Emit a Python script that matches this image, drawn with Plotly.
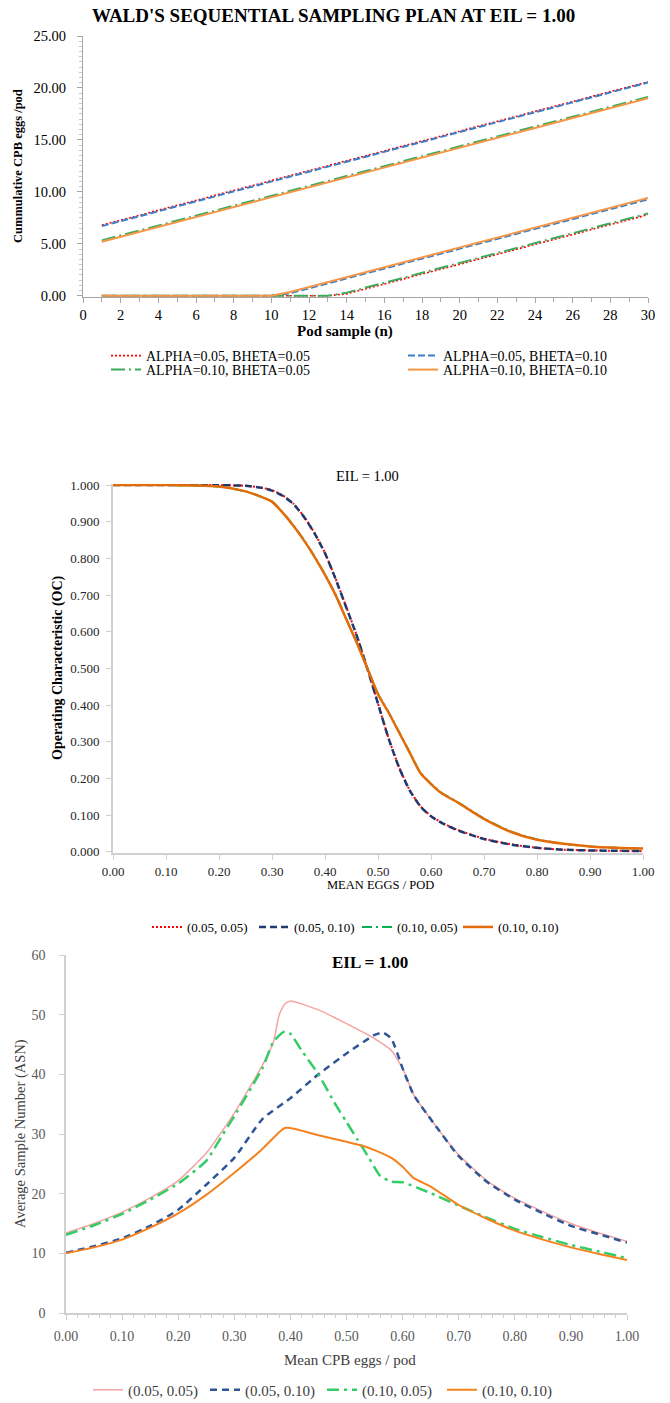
import plotly.graph_objects as go

# ---------------- Panel 1 data: Wald's sequential sampling lines ----------------
POD_N = [1, 2, 3, 4, 5, 6, 7, 8, 9, 10, 11, 12, 13, 14, 15,
         16, 17, 18, 19, 20, 21, 22, 23, 24, 25, 26, 27, 28, 29, 30]
UPPER_0505 = [6.80, 7.28, 7.75, 8.23, 8.70, 9.18, 9.66, 10.13, 10.61, 11.08, 11.56, 12.04, 12.51, 12.99, 13.46,
              13.94, 14.42, 14.89, 15.37, 15.84, 16.32, 16.80, 17.27, 17.75, 18.22, 18.70, 19.18, 19.65, 20.13, 20.60]
UPPER_0510 = [6.70, 7.18, 7.65, 8.13, 8.61, 9.08, 9.56, 10.04, 10.51, 10.99, 11.47, 11.94, 12.42, 12.90, 13.37,
              13.85, 14.32, 14.80, 15.28, 15.75, 16.23, 16.71, 17.18, 17.66, 18.14, 18.61, 19.09, 19.57, 20.04, 20.52]
UPPER_1005 = [5.33, 5.81, 6.28, 6.76, 7.23, 7.71, 8.19, 8.66, 9.14, 9.61, 10.09, 10.57, 11.04, 11.52, 11.99,
              12.47, 12.95, 13.42, 13.90, 14.38, 14.85, 15.33, 15.80, 16.28, 16.76, 17.23, 17.71, 18.18, 18.66, 19.14]
UPPER_1010 = [5.20, 5.68, 6.15, 6.63, 7.10, 7.58, 8.06, 8.53, 9.01, 9.48, 9.96, 10.44, 10.91, 11.39, 11.86,
              12.34, 12.82, 13.29, 13.77, 14.24, 14.72, 15.20, 15.67, 16.15, 16.62, 17.10, 17.58, 18.05, 18.53, 19.00]
LOWER_0505 = [0, 0, 0, 0, 0, 0, 0, 0, 0, 0, 0, 0, 0, 0.18, 0.66,
              1.13, 1.61, 2.08, 2.56, 3.04, 3.51, 3.99, 4.46, 4.94, 5.42, 5.89, 6.37, 6.84, 7.32, 7.80]
LOWER_0510 = [0, 0, 0, 0, 0, 0, 0, 0, 0, 0, 0.24, 0.72, 1.19, 1.67, 2.14,
              2.62, 3.10, 3.57, 4.05, 4.52, 5.00, 5.48, 5.95, 6.43, 6.90, 7.38, 7.86, 8.33, 8.81, 9.28]
LOWER_1005 = [0, 0, 0, 0, 0, 0, 0, 0, 0, 0, 0, 0, 0, 0.30, 0.78,
              1.25, 1.73, 2.20, 2.68, 3.16, 3.63, 4.11, 4.58, 5.06, 5.54, 6.01, 6.49, 6.96, 7.44, 7.92]
LOWER_1010 = [0, 0, 0, 0, 0, 0, 0, 0, 0, 0, 0.36, 0.84, 1.31, 1.79, 2.26,
              2.74, 3.22, 3.69, 4.17, 4.64, 5.12, 5.60, 6.07, 6.55, 7.02, 7.50, 7.98, 8.45, 8.93, 9.40]
WALD_LABELS = ["ALPHA=0.05, BHETA=0.05", "ALPHA=0.05, BHETA=0.10",
               "ALPHA=0.10, BHETA=0.05", "ALPHA=0.10, BHETA=0.10"]

# ---------------- Panel 2 data: Operating characteristic ----------------
OC_X = [0.00, 0.05, 0.10, 0.15, 0.20, 0.25, 0.28, 0.30, 0.32, 0.34, 0.36, 0.38, 0.40, 0.42, 0.44, 0.46,
        0.48, 0.50, 0.52, 0.54, 0.56, 0.58, 0.60, 0.62, 0.65, 0.70, 0.75, 0.80, 0.85, 0.90, 0.95, 1.00]
OC_0505 = [1.000, 1.000, 1.000, 1.000, 1.000, 0.998, 0.993, 0.986, 0.972, 0.950, 0.915, 0.870, 0.815, 0.745, 0.668, 0.590,
           0.500, 0.405, 0.310, 0.230, 0.168, 0.125, 0.098, 0.080, 0.060, 0.036, 0.021, 0.011, 0.006, 0.004, 0.003, 0.002]
OC_0510 = [1.000, 1.000, 1.000, 1.000, 1.000, 0.998, 0.993, 0.985, 0.971, 0.949, 0.914, 0.869, 0.814, 0.744, 0.667, 0.589,
           0.499, 0.404, 0.309, 0.229, 0.167, 0.124, 0.097, 0.079, 0.059, 0.035, 0.020, 0.011, 0.006, 0.004, 0.003, 0.002]
OC_1005 = [1.000, 1.000, 1.000, 0.999, 0.996, 0.983, 0.968, 0.955, 0.926, 0.891, 0.851, 0.806, 0.756, 0.701, 0.636, 0.571,
           0.501, 0.431, 0.381, 0.326, 0.271, 0.216, 0.186, 0.161, 0.136, 0.091, 0.056, 0.034, 0.022, 0.015, 0.011, 0.009]
OC_1010 = [1.000, 1.000, 1.000, 0.999, 0.996, 0.983, 0.968, 0.955, 0.925, 0.890, 0.850, 0.805, 0.755, 0.700, 0.635, 0.570,
           0.500, 0.430, 0.380, 0.325, 0.270, 0.215, 0.185, 0.160, 0.135, 0.090, 0.055, 0.033, 0.022, 0.015, 0.011, 0.009]
PAIR_LABELS = ["(0.05, 0.05)", "(0.05, 0.10)", "(0.10, 0.05)", "(0.10, 0.10)"]

# ---------------- Panel 3 data: Average sample number ----------------
ASN_X_0505 = [0.00, 0.05, 0.10, 0.15, 0.20, 0.25, 0.30, 0.35, 0.37, 0.38, 0.39, 0.40, 0.45, 0.50, 0.55,
              0.58, 0.60, 0.62, 0.65, 0.70, 0.75, 0.80, 0.85, 0.90, 0.95, 1.00]
ASN_0505 = [13.4, 15.0, 16.9, 19.3, 22.2, 26.8, 33.5, 41.5, 45.5, 50.0, 51.8, 52.3, 50.8, 48.5, 46.0,
            44.0, 41.0, 36.5, 32.5, 26.5, 22.2, 19.2, 17.0, 15.0, 13.4, 12.0]
ASN_X_0510 = [0.00, 0.05, 0.10, 0.15, 0.20, 0.25, 0.30, 0.35, 0.40, 0.45, 0.50, 0.55, 0.565, 0.58,
              0.60, 0.62, 0.65, 0.70, 0.75, 0.80, 0.85, 0.90, 0.95, 1.00]
ASN_0510 = [10.1, 11.2, 12.5, 14.6, 17.3, 21.5, 26.0, 32.5, 36.0, 40.0, 43.5, 46.6, 47.0, 46.0,
            41.0, 36.5, 32.5, 26.3, 22.0, 19.0, 16.7, 14.6, 13.2, 11.8]
ASN_X_1005 = [0.00, 0.05, 0.10, 0.15, 0.20, 0.25, 0.28, 0.30, 0.35, 0.37, 0.39, 0.40, 0.42, 0.45, 0.48,
              0.50, 0.52, 0.54, 0.56, 0.58, 0.60, 0.65, 0.70, 0.75, 0.80, 0.85, 0.90, 0.95, 1.00]
ASN_1005 = [13.1, 14.7, 16.6, 19.0, 21.7, 25.5, 30.0, 33.0, 41.0, 45.5, 47.2, 46.8, 44.0, 40.0, 35.0,
            32.0, 29.0, 26.0, 23.0, 22.0, 21.9, 20.1, 18.0, 16.0, 14.1, 12.7, 11.4, 10.3, 9.2]
ASN_X_1010 = [0.00, 0.05, 0.10, 0.15, 0.20, 0.25, 0.30, 0.35, 0.38, 0.39, 0.40, 0.45, 0.50, 0.53, 0.55,
              0.58, 0.60, 0.62, 0.65, 0.70, 0.75, 0.80, 0.85, 0.90, 0.95, 1.00]
ASN_1010 = [10.0, 11.0, 12.3, 14.3, 16.7, 19.8, 23.5, 27.5, 30.3, 31.0, 31.0, 29.8, 28.7, 28.0, 27.3,
            26.0, 24.5, 22.6, 21.2, 18.1, 15.8, 13.8, 12.3, 11.0, 9.9, 8.9]

W, H = 670, 1403
SERIF = "Liberation Serif"


def px(x):
    return x / W


def py(y):
    return (H - y) / H


fig = go.Figure()

# ----- Panel 1 traces (one legend per entry so the 2x2 grid is exact) -----
p1_styles = [
    dict(color="#ff0000", width=1.6, dash="2px,2px"),
    dict(color="#3a7fc8", width=2, dash="7px,3px"),
    dict(color="#3daa5c", width=2, dash="14px,4px,2px,4px"),
    dict(color="#f79646", width=2),
]
uppers = [UPPER_0505, UPPER_0510, UPPER_1005, UPPER_1010]
lowers = [LOWER_0505, LOWER_0510, LOWER_1005, LOWER_1010]
legs1 = ["legend", "legend2", "legend3", "legend4"]
for i in range(4):
    fig.add_trace(go.Scatter(x=POD_N, y=uppers[i], mode="lines", name=WALD_LABELS[i],
                             line=p1_styles[i], legendgroup="w%d" % i, legend=legs1[i],
                             xaxis="x", yaxis="y"))
    fig.add_trace(go.Scatter(x=POD_N, y=lowers[i], mode="lines", name=WALD_LABELS[i],
                             line=p1_styles[i], legendgroup="w%d" % i, legend=legs1[i],
                             showlegend=False, xaxis="x", yaxis="y"))

# ----- Panel 2 traces -----
p2_styles = [
    dict(color="#ff0000", width=2, dash="2px,2px"),
    dict(color="#1f3a6e", width=2.5, dash="7px,4px"),
    dict(color="#00b050", width=2, dash="10px,4px,2px,4px"),
    dict(color="#e36c09", width=2.5),
]
ocs = [OC_0505, OC_0510, OC_1005, OC_1010]
legs2 = ["legend5", "legend6", "legend7", "legend8"]
for i in range(4):
    fig.add_trace(go.Scatter(x=OC_X, y=ocs[i], mode="lines", name=PAIR_LABELS[i],
                             line=dict(shape="spline", smoothing=0.6, **p2_styles[i]),
                             legend=legs2[i], xaxis="x2", yaxis="y2"))

# ----- Panel 3 traces -----
p3_styles = [
    dict(color="#f4a3a3", width=1.5),
    dict(color="#2f5597", width=2.5, dash="7px,5px"),
    dict(color="#33cc66", width=2.5, dash="12px,5px,3px,5px"),
    dict(color="#f5821f", width=2),
]
asn_x = [ASN_X_0505, ASN_X_0510, ASN_X_1005, ASN_X_1010]
asn_y = [ASN_0505, ASN_0510, ASN_1005, ASN_1010]
legs3 = ["legend9", "legend10", "legend11", "legend12"]
for i in range(4):
    fig.add_trace(go.Scatter(x=asn_x[i], y=asn_y[i], mode="lines", name=PAIR_LABELS[i],
                             line=dict(shape="spline", smoothing=0.5, **p3_styles[i]),
                             legend=legs3[i], xaxis="x3", yaxis="y3"))

# ----- Axes -----
g1 = "#a6a6a6"
lg = "#d0d0d0"
common = dict(showgrid=False, zeroline=False, automargin=False, ticks="outside")
fig.update_layout(
    xaxis=dict(domain=[px(83), px(648)], anchor="y", range=[0, 30], tick0=0, dtick=2,
               ticklen=5, tickcolor=g1, showline=True, linecolor=g1, linewidth=1,
               minor=dict(dtick=1, ticks="outside", ticklen=4, tickcolor=g1),
               tickfont=dict(family=SERIF, size=14.5, color="#000000"), **common),
    yaxis=dict(domain=[py(297), py(36)], anchor="x", range=[-0.12, 25], tick0=0, dtick=5,
               tickformat=".2f", ticklen=5, tickcolor=g1, showline=True,
               linecolor=g1, linewidth=1, ticklabelstandoff=8,
               minor=dict(dtick=0.5, ticks="outside", ticklen=3, tickcolor="#c8c8c8"),
               tickfont=dict(family=SERIF, size=14.5, color="#000000"), **common),
    xaxis2=dict(domain=[px(113), px(643)], anchor="y2", range=[0, 1], tick0=0, dtick=0.1,
                tickformat=".2f", ticklen=5, tickcolor=lg, showline=True,
                linecolor=lg, linewidth=2,
                tickfont=dict(family=SERIF, size=13, color="#262626"), **common),
    yaxis2=dict(domain=[py(853), py(484)], anchor="x2", range=[-0.003, 1.003], tick0=0, dtick=0.1,
                tickformat=".3f", ticklen=5, tickcolor=lg, showline=True,
                linecolor=lg, linewidth=2, ticklabelstandoff=4,
                tickfont=dict(family=SERIF, size=13, color="#262626"), **common),
    xaxis3=dict(domain=[px(66), px(627)], anchor="y3", range=[0, 1], tick0=0, dtick=0.1,
                tickformat=".2f", ticklen=5, tickcolor=lg, showline=True,
                linecolor=lg, linewidth=1.5, ticklabelstandoff=4,
                minor=dict(dtick=0.02, ticks="outside", ticklen=3, tickcolor=lg),
                tickfont=dict(family=SERIF, size=14, color="#595959"), **common),
    yaxis3=dict(domain=[py(1313), py(955)], anchor="x3", range=[0, 60], tick0=0, dtick=10,
                ticklen=5, tickcolor=lg, showline=True,
                linecolor=lg, linewidth=1.5, ticklabelstandoff=11,
                tickfont=dict(family=SERIF, size=14, color="#595959"), **common),
)

# ----- Legends (one entry each) -----
def leg(x, y, size, color):
    return dict(orientation="h", x=px(x), y=py(y), xanchor="left", yanchor="middle",
                xref="paper", yref="paper", itemwidth=30,
                bgcolor="rgba(0,0,0,0)", font=dict(family=SERIF, size=size, color=color),
                tracegroupgap=0, itemclick=False, itemdoubleclick=False)

fig.update_layout(
    legend=leg(106, 356, 14, "#000000"),
    legend2=leg(403, 356, 14, "#000000"),
    legend3=leg(106, 370, 14, "#000000"),
    legend4=leg(403, 370, 14, "#000000"),
    legend5=leg(147, 927, 13, "#000000"),
    legend6=leg(254, 927, 13, "#000000"),
    legend7=leg(357, 927, 13, "#000000"),
    legend8=leg(458, 927, 13, "#000000"),
    legend9=leg(88, 1390, 15, "#404040"),
    legend10=leg(205, 1390, 15, "#404040"),
    legend11=leg(322, 1390, 15, "#404040"),
    legend12=leg(442, 1390, 15, "#404040"),
)

# ----- Titles (annotations) -----
ann = [
    dict(text="<b>WALD'S SEQUENTIAL SAMPLING PLAN AT EIL = 1.00</b>", x=px(333), y=py(15),
         font=dict(family=SERIF, size=19, color="#000000")),
    dict(text="<b>Cummulative CPB eggs /pod</b>", x=px(18), y=py(166), textangle=-90,
         font=dict(family=SERIF, size=12.5, color="#000000")),
    dict(text="<b>Pod sample (n)</b>", x=px(345), y=py(331),
         font=dict(family=SERIF, size=15, color="#000000")),
    dict(text="EIL = 1.00", x=px(367), y=py(476),
         font=dict(family=SERIF, size=14.5, color="#000000")),
    dict(text="<b>Operating Characteristic (OC)</b>", x=px(58), y=py(668), textangle=-90,
         font=dict(family=SERIF, size=14, color="#000000")),
    dict(text="MEAN EGGS / POD", x=px(380), y=py(885),
         font=dict(family=SERIF, size=12.5, color="#000000")),
    dict(text="<b>EIL = 1.00</b>", x=px(370), y=py(962),
         font=dict(family=SERIF, size=17, color="#000000")),
    dict(text="Average Sample Number (ASN)", x=px(20), y=py(1134), textangle=-90,
         font=dict(family=SERIF, size=14.5, color="#404040")),
    dict(text="Mean CPB eggs / pod", x=px(350), y=py(1360),
         font=dict(family=SERIF, size=15, color="#404040")),
]
for a in ann:
    a.update(xref="paper", yref="paper", showarrow=False, xanchor="center", yanchor="middle")
fig.update_layout(annotations=ann)

fig.update_layout(width=W, height=H, margin=dict(l=0, r=0, t=0, b=0, autoexpand=False),
                  paper_bgcolor="white", plot_bgcolor="white",
                  font=dict(family=SERIF), showlegend=True)

fig.write_html("out.html", config={"displayModeBar": False},
               post_script="document.body.style.margin='0px';")
